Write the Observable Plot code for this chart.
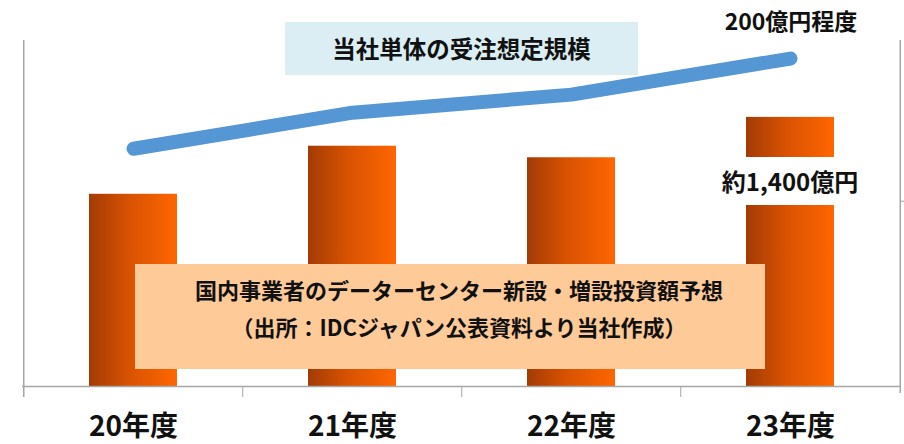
<!DOCTYPE html>
<html><head><meta charset="utf-8">
<script src="https://cdn.jsdelivr.net/npm/d3@7"></script>
<script src="https://cdn.jsdelivr.net/npm/@observablehq/plot@0.6"></script>
<style>
body{margin:0;background:#fff;}
#wrap{position:relative;width:904px;height:444px;font-family:"Noto Sans CJK JP","Noto Sans",sans-serif;font-weight:700;color:#111;}
#wrap svg{position:absolute;left:0;top:0;}
.box{position:absolute;display:flex;flex-direction:column;align-items:center;justify-content:center;white-space:nowrap;}
</style></head><body><div id="wrap"></div>
<script>
// categories and values (億円)
const categories = ["20年度", "21年度", "22年度", "23年度"];
const investment = [1000, 1250, 1190, 1400];   // 国内事業者のデータセンター新設・増設投資額予想
const orders = [145, 167, 178, 200];           // 当社単体の受注想定規模
const leftMax = 1800;
const rightMax = 211;
const rightTicks = [113];
const labels = {
  orders: "当社単体の受注想定規模",
  ordersValue: "200億円程度",
  investValue: "約1,400億円",
  investLine1: "国内事業者のデーターセンター新設・増設投資額予想",
  investLine2: "（出所：IDCジャパン公表資料より当社作成）"
};

const W = 904, H = 444, mL = 22, mR = 4, mT = 40, mB = 58;
const step = (W - mL - mR) / categories.length;
const axisColor = "#a6a6a6";
const data = categories.map((c, i) => ({cat: c, inv: investment[i], ord: orders[i]}));
const toLeft = v => v * leftMax / rightMax;

const plot = Plot.plot({
  width: W, height: H,
  marginLeft: mL, marginRight: mR, marginTop: mT, marginBottom: mB,
  style: {fontFamily: '"Noto Sans CJK JP","Noto Sans",sans-serif', background: "transparent", overflow: "visible"},
  x: {domain: categories, paddingInner: 0.6, paddingOuter: 0.3, label: null},
  y: {domain: [0, leftMax], label: null},
  marks: [
    Plot.barY(data, {x: "cat", y: "inv", fill: "url(#barGrad)"}),
    Plot.ruleY([0], {stroke: axisColor, strokeWidth: 1.5}),
    Plot.ruleX([categories[0]], {x: d => d, dx: -step / 2, y1: leftMax, y2: 0, insetBottom: -11, stroke: axisColor, strokeWidth: 1.5}),
    Plot.ruleX(categories.slice(1), {x: d => d, dx: -step / 2, y1: 0, y2: 0, insetBottom: -11, stroke: axisColor, strokeWidth: 1}),
    Plot.ruleX([categories[categories.length - 1]], {x: d => d, dx: step / 2, y1: leftMax, y2: 0, insetBottom: -7, stroke: axisColor, strokeWidth: 1.5}),
    Plot.axisY({anchor: "right", ticks: rightTicks.map(toLeft), tickSize: 5, tickFormat: () => "", stroke: axisColor, label: null}),
    Plot.lineY(data, {x: "cat", y: d => toLeft(d.ord), stroke: "#5596d4", strokeWidth: 14, strokeLinecap: "round", strokeLinejoin: "round"}),
    Plot.axisX({tickSize: 0, tickPadding: 30, fontSize: 28, fontWeight: "bold", fill: "#111", label: null})
  ]
});

const svg = d3.select(plot);
const defs = svg.insert("defs", ":first-child");
const grad = defs.append("linearGradient").attr("id", "barGrad")
  .attr("x1", "0").attr("x2", "1").attr("y1", "0").attr("y2", "0");
grad.append("stop").attr("offset", "0%").attr("stop-color", "#a33b05");
grad.append("stop").attr("offset", "45%").attr("stop-color", "#d85202");
grad.append("stop").attr("offset", "100%").attr("stop-color", "#ff6600");

const wrap = document.getElementById("wrap");
wrap.appendChild(plot);

function box(left, top, width, height, bg, lines, size, extra) {
  const d = document.createElement("div");
  d.className = "box";
  Object.assign(d.style, {left: left + "px", top: top + "px", width: width + "px", height: height + "px", background: bg, fontSize: size + "px"}, extra || {});
  lines.forEach(t => { const s = document.createElement("div"); s.textContent = t; d.appendChild(s); });
  wrap.appendChild(d);
  return d;
}
box(285, 22, 353, 53, "#daeef3", [labels.orders], 23.5, {lineHeight: "1"});
box(135, 264, 630, 105, "#fdca98", [labels.investLine1, labels.investLine2], 22, {lineHeight: "37px", paddingBottom: "18px", paddingLeft: "18px", boxSizing: "border-box"});
box(700, 4, 182, 32, "transparent", [labels.ordersValue], 23, {lineHeight: "1"});
box(712, 157, 156, 48, "#ffffff", [labels.investValue], 24, {lineHeight: "1"});
</script></body></html>
